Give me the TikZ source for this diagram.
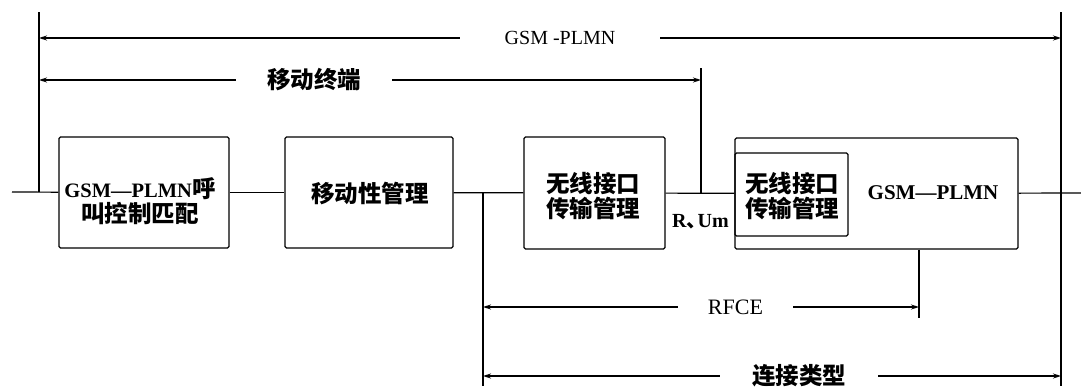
\documentclass[tikz,border=0pt]{standalone}
\usepackage{fontspec}
\setmainfont{Liberation Serif}
\newfontfamily\cjk{Noto Sans CJK SC}
\usetikzlibrary{arrows.meta}
\newcommand\zh[1]{{\cjk\bfseries #1}}
\begin{document}
\begin{tikzpicture}[x=1pt,y=-1pt,
  box/.style={draw,line width=1.2pt,rounded corners=1.5pt,inner sep=0pt},
  btxt/.style={inner sep=0pt,align=center,font=\fontsize{23.5}{24.5}\selectfont\bfseries},
  ln/.style={line width=1.2pt},
  arr/.style={line width=1.2pt,-{Stealth[length=8pt,width=5pt]}},
  lbl/.style={inner sep=0pt,font=\fontsize{20}{24}\selectfont},
  zlbl/.style={inner sep=0pt,font=\fontsize{23.5}{24}\selectfont\cjk\bfseries},
]
\useasboundingbox (0,0) rectangle (1081,388);
% boxes
\node[box,minimum width=170pt,minimum height=111pt] (b1) at (144,192.5) {};
\node[btxt] (b1t) at (140,201)
  {{\fontsize{20.5}{24.5}\selectfont GSM—PLMN}\zh{呼}\\\zh{叫控制匹配}};
\node[box,minimum width=168pt,minimum height=111pt] (b2) at (369,192.5) {};
\node[btxt] (b2t) at (370,194) {\zh{移动性管理}};
\node[box,minimum width=141pt,minimum height=112pt] (b3) at (594.5,193) {};
\node[btxt] (b3t) at (593,196) {\zh{无线接口}\\\zh{传输管理}};
\node[box,minimum width=283pt,minimum height=111pt] (big) at (876.5,193.5) {};
\node[box,minimum width=113pt,minimum height=83pt] (inner) at (791.5,194.5) {};
\node[btxt] (innert) at (792,196) {\zh{无线接口}\\\zh{传输管理}};
\node[inner sep=0pt,font=\fontsize{21}{23}\selectfont\bfseries] (gp) at (933,193) {GSM—PLMN};
\node[anchor=west,inner sep=0pt,font=\fontsize{20}{23}\selectfont\bfseries] (rum) at (672,222)
  {R\zh{、}\kern-9pt Um};
% coordinates
\coordinate (L0) at (12,192);
\coordinate (LT) at (39,12);
\coordinate (LJ) at (39,192);
\coordinate (J1) at (483,193);
\coordinate (J1b) at (483,386);
\coordinate (MT) at (701,68);
\coordinate (MB) at (701,193);
\coordinate (R0) at (1081,193);
\coordinate (RT) at (1061,12);
\coordinate (RB) at (1061,386);
\coordinate (RF) at (919,318);
% main line
\draw[ln] (L0) -- (b1);
\draw[ln] (LT) -- (LJ);
\draw[ln] (b1) -- (b2);
\draw[ln] (b2) -- (b3);
\draw[ln] (J1) -- (J1b);
\draw[ln] (b3) -- (big);
\draw[ln] (MT) -- (MB);
\draw[ln] (big) -- (R0);
\draw[ln] (RT) -- (RB);
\draw[ln] (RF |- big.south) -- (RF);
% dimension arrows
\node[lbl,minimum width=200pt] (tg) at (560,38) {GSM -PLMN};
\coordinate (ga) at (39,38); \coordinate (gb) at (1061,38);
\draw[arr] (tg) -- (ga);
\draw[arr] (tg) -- (gb);
\node[zlbl,minimum width=156pt] (tm) at (314,80) {移动终端};
\coordinate (ma) at (39,80); \coordinate (mb) at (701,80);
\draw[arr] (tm) -- (ma);
\draw[arr] (tm) -- (mb);
\node[lbl,minimum width=115pt,font=\fontsize{22}{24}\selectfont] (tr) at (735.5,307) {RFCE};
\coordinate (ra) at (483,307); \coordinate (rb) at (919,307);
\draw[arr] (tr) -- (ra);
\draw[arr] (tr) -- (rb);
\node[zlbl,minimum width=158pt] (tc) at (799,376) {连接类型};
\coordinate (ca) at (483,376); \coordinate (cb) at (1061,376);
\draw[arr] (tc) -- (ca);
\draw[arr] (tc) -- (cb);
\end{tikzpicture}
\end{document}
